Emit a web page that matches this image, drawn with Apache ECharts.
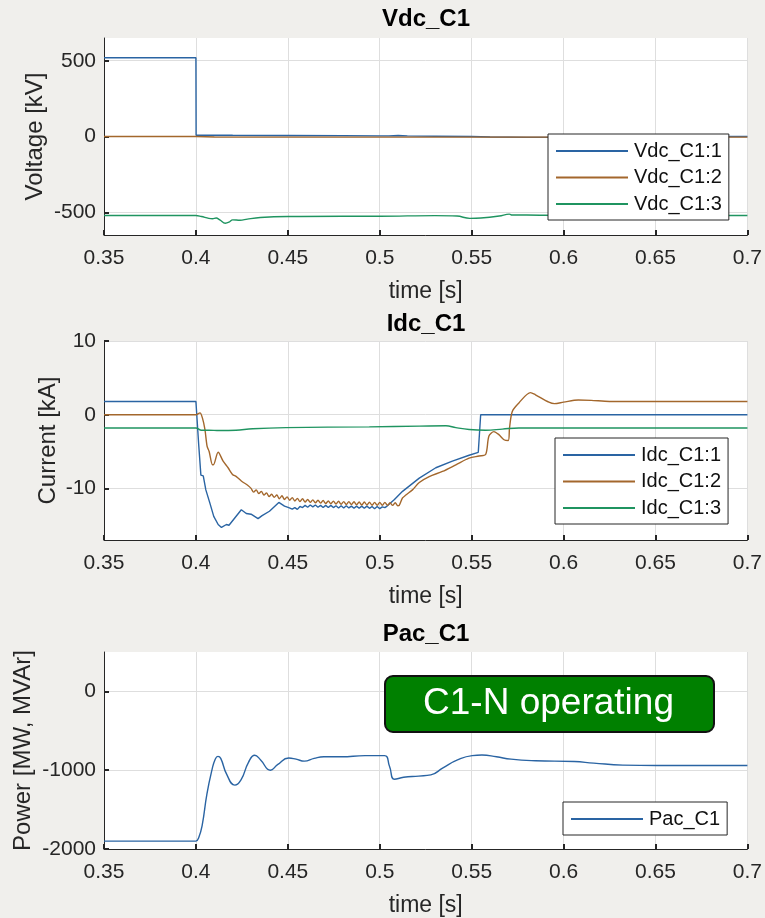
<!DOCTYPE html>
<html>
<head>
<meta charset="utf-8">
<script src="https://cdn.jsdelivr.net/npm/echarts@6/dist/echarts.min.js"></script>
<style>
html,body{margin:0;padding:0;background:#f0efec;}
#chart{width:765px;height:918px;}
</style>
</head>
<body>
<div id="chart"></div>
<script>
// ---------- tick labels ----------
const timeTicks = [0.35, 0.4, 0.45, 0.5, 0.55, 0.6, 0.65, 0.7];
const vdcTicks = [-500, 0, 500];
const idcTicks = [-10, 0, 10];
const pacTicks = [-2000, -1000, 0];

// ---------- Vdc_C1 ----------
const vdc1Time  = [0.35, 0.4, 0.4001, 0.405, 0.42, 0.45, 0.48, 0.5, 0.505, 0.51, 0.515, 0.53, 0.55, 0.56, 0.58, 0.6, 0.62, 0.7];
const vdc1Value = [520, 520, 8, 9, 8, 7, 6, 4, 4, 7, 4, 2, 0, -3, -6, -5, -2, 0];
const vdc2Time  = [0.35, 0.4, 0.41, 0.45, 0.5, 0.55, 0.6, 0.65, 0.7];
const vdc2Value = [0, 0, -3, -4, -4, -4, -4, -4, -4];
const vdc3Time  = [0.35, 0.399, 0.4, 0.403, 0.407, 0.409, 0.411, 0.413, 0.416, 0.418, 0.42, 0.424, 0.428, 0.435, 0.45, 0.48, 0.5, 0.53, 0.542, 0.549, 0.555, 0.565, 0.5705, 0.572, 0.58, 0.6, 0.7];
const vdc3Value = [-521, -521, -521, -528, -540, -543, -538, -550, -572, -565, -550, -553, -545, -535, -528, -526, -526, -522, -525, -540, -538, -525, -512, -518, -518, -521, -521];

// ---------- Idc_C1 ----------
const idc1Time  = [0.35, 0.4, 0.4015, 0.4027, 0.404, 0.4054, 0.4076, 0.4097, 0.4121, 0.4139, 0.4166, 0.418, 0.4247, 0.4274, 0.43, 0.4338, 0.436, 0.44, 0.4451, 0.4482, 0.4505,
  0.4524, 0.4538, 0.4552, 0.4566, 0.458, 0.4594, 0.4608, 0.4622, 0.4636, 0.465, 0.4664, 0.4678, 0.4692, 0.4706, 0.472, 0.4734, 0.4748, 0.4762, 0.4776, 0.479,
  0.4804, 0.4818, 0.4832, 0.4846, 0.486, 0.4874, 0.4888, 0.4902, 0.4916, 0.493, 0.4944, 0.4958, 0.4972, 0.4986, 0.5, 0.5014, 0.5028, 0.504,
  0.508, 0.5124, 0.5215, 0.5305, 0.5395, 0.5486, 0.5536, 0.5549, 0.7];
const idc1Value = [1.8, 1.8, -4, -8.2, -8.3, -10.2, -12, -13.8, -14.9, -15.3, -14.9, -15, -12.9, -13.4, -13.5, -14.1, -13.7, -13.1, -11.9, -12.4, -12.6,
  -12.8, -12.6, -12.85, -12.45, -12.6, -12.3, -12.55, -12.25, -12.5, -12.25, -12.55, -12.3, -12.6, -12.3, -12.6, -12.3, -12.6, -12.35, -12.65, -12.35,
  -12.65, -12.35, -12.65, -12.4, -12.7, -12.4, -12.7, -12.4, -12.7, -12.4, -12.7, -12.45, -12.75, -12.45, -12.75, -12.5, -12.6, -12.4,
  -11.5, -10.4, -8.6, -7.2, -6.3, -5.5, -5.1, 0, 0];
const idc2Time  = [0.35, 0.4, 0.4022, 0.4036, 0.4049, 0.4061, 0.4072, 0.409, 0.4095, 0.4121, 0.4148, 0.4175, 0.4199, 0.422, 0.4247, 0.4283,
  0.43, 0.4314, 0.4328, 0.4342, 0.4356, 0.437, 0.4384, 0.4398, 0.4412, 0.4426, 0.444, 0.4454, 0.4468, 0.4482, 0.4496, 0.451, 0.4524, 0.4538, 0.4552, 0.4566,
  0.458, 0.4594, 0.4608, 0.4622, 0.4636, 0.465, 0.4664, 0.4678, 0.4692, 0.4706, 0.472, 0.4734, 0.4748, 0.4762, 0.4776, 0.479, 0.4804, 0.4818, 0.4832, 0.4846,
  0.486, 0.4874, 0.4888, 0.4902, 0.4916, 0.493, 0.4944, 0.4958, 0.4972, 0.4986, 0.5, 0.5014, 0.5028, 0.5042, 0.5056, 0.507, 0.5084, 0.5098,
  0.5106, 0.5124, 0.5142, 0.5178, 0.5215, 0.5269, 0.5341, 0.5414, 0.5486, 0.554, 0.5576, 0.5594, 0.5621, 0.5648, 0.5676, 0.5699, 0.5706, 0.5721, 0.5757,
  0.582, 0.5847, 0.592, 0.595, 0.6, 0.608, 0.615, 0.625, 0.65, 0.7];
const idc2Value = [0, 0, 0.25, -0.5, -2, -4.3, -5, -6.8, -6.8, -5.1, -6.3, -7.2, -8.1, -8.4, -9, -9.6,
  -10.0, -10.5, -10.2, -10.7, -10.4, -10.9, -10.6, -11.1, -10.8, -11.2, -10.9, -11.4, -11.0, -11.5, -11.15, -11.6, -11.25, -11.7, -11.35, -11.8,
  -11.4, -11.85, -11.5, -11.9, -11.55, -11.95, -11.6, -12.0, -11.65, -12.05, -11.7, -12.1, -11.72, -12.12, -11.75, -12.15, -11.8, -12.2, -11.8, -12.2,
  -11.82, -12.22, -11.85, -12.25, -11.85, -12.25, -11.88, -12.28, -11.9, -12.3, -11.9, -12.3, -11.9, -12.3, -11.95, -12.3, -11.95, -12.35,
  -12.3, -11.3, -10.9, -10.2, -9.2, -8.4, -7.7, -6.8, -5.9, -5.6, -5.4, -2.9, -2.3, -2.7, -3.4, -3.5, -1.8, 0.45, 1.6,
  3.0, 2.7, 1.7, 1.5, 1.7, 2.0, 1.95, 1.8, 1.8, 1.8];
const idc3Time  = [0.35, 0.4, 0.403, 0.407, 0.4127, 0.4218, 0.4309, 0.449, 0.4943, 0.5215, 0.536, 0.5414, 0.5486, 0.5576, 0.5667, 0.5757, 0.7];
const idc3Value = [-1.8, -1.8, -2.1, -2.1, -2.15, -2.1, -1.9, -1.75, -1.65, -1.55, -1.5, -1.75, -2.0, -2.1, -1.95, -1.8, -1.8];

// ---------- Pac_C1 ----------
const pacTime  = [0.35, 0.399, 0.4, 0.4016, 0.4034, 0.406, 0.4087, 0.4105, 0.412, 0.4135, 0.4167, 0.4212, 0.4246, 0.4286, 0.432, 0.4352, 0.4405, 0.4444, 0.4505, 0.4545, 0.459, 0.4643, 0.4696,
  0.479, 0.492, 0.5026, 0.5053, 0.508, 0.513, 0.5212, 0.5278, 0.5344, 0.5423, 0.5503, 0.5556, 0.5635, 0.5714, 0.5847, 0.6058, 0.6164, 0.6323, 0.6508, 0.7];
const pacValue = [-1900, -1900, -1900, -1850, -1700, -1300, -1000, -860, -825, -850, -1050, -1190, -1120, -900, -810, -870, -1000, -930, -845, -860, -885, -850, -830,
  -830, -815, -815, -950, -1115, -1090, -1075, -1060, -970, -870, -815, -808, -830, -860, -880, -890, -910, -935, -940, -940];

const zip = (t, v) => t.map((x, i) => [x, v[i]]);

const INK = '#262626';
const BLUE = '#2a64a3';
const BROWN = '#a3672c';
const GREEN = '#1f9460';
const FONT = '"Liberation Sans", Arial, sans-serif';

const grids = [
  {left: 104, right: 16, top: 38, height: 197},
  {left: 104, right: 16, top: 341, height: 199},
  {left: 104, right: 16, top: 652, height: 198}
];

function xAxisFor(i) {
  return {
    type: 'value', gridIndex: i, min: 0.35, max: 0.7,
    name: 'time [s]', nameLocation: 'middle', nameGap: 45, nameMoveOverlap: false,
    nameTextStyle: {fontFamily: FONT, fontSize: 23, color: INK},
    axisLine: {show: true, onZero: false, lineStyle: {color: INK, width: 1}},
    axisTick: {show: true, inside: true, length: 5, customValues: timeTicks, lineStyle: {color: INK, width: 2}},
    axisLabel: {customValues: timeTicks, fontFamily: FONT, fontSize: 21, color: INK, margin: 13,
      formatter: v => String(parseFloat(v.toFixed(2)))},
    splitLine: {show: true, lineStyle: {color: '#dedede', width: 1}}
  };
}
function yAxisFor(i, min, max, ticks, name, gap) {
  return {
    type: 'value', gridIndex: i, min: min, max: max,
    name: name, nameLocation: 'middle', nameGap: gap, nameMoveOverlap: false,
    nameTextStyle: {fontFamily: FONT, fontSize: 24, color: INK},
    axisLine: {show: true, onZero: false, lineStyle: {color: INK, width: 1}},
    axisTick: {show: true, inside: true, length: 5, customValues: ticks, lineStyle: {color: INK, width: 2}},
    axisLabel: {customValues: ticks, fontFamily: FONT, fontSize: 21, color: INK, margin: 8,
      formatter: v => String(v)},
    splitLine: {show: true, lineStyle: {color: '#dedede', width: 1}}
  };
}
function lineSeries(name, xi, data, color, smooth) {
  return {
    type: 'line', name: name, xAxisIndex: xi, yAxisIndex: xi, data: data,
    symbol: 'none', showSymbol: false, animation: false, z: 3,
    smooth: smooth || false,
    lineStyle: {color: color, width: 1.4}, itemStyle: {color: color}
  };
}
function legendFor(names, left, top) {
  return {
    data: names, orient: 'vertical', left: left, top: top,
    padding: [7, 7, 6, 7], itemWidth: 72, itemHeight: 1, itemGap: 6.5,
    backgroundColor: '#ffffff', borderColor: INK, borderWidth: 1,
    textStyle: {fontFamily: FONT, fontSize: 20, color: '#111', lineHeight: 20, padding: [0, 0, 0, 1]},
    selectedMode: false
  };
}

const titleStyle = {fontFamily: FONT, fontSize: 24, fontWeight: 'bold', color: '#000'};

const chart = echarts.init(document.getElementById('chart'), null, {renderer: 'canvas'});
chart.setOption({
  backgroundColor: '#f0efec',
  animation: false,
  title: [
    {text: 'Vdc_C1', left: 426, top: 7, textAlign: 'center', padding: 0, textStyle: titleStyle},
    {text: 'Idc_C1', left: 426, top: 312, textAlign: 'center', padding: 0, textStyle: titleStyle},
    {text: 'Pac_C1', left: 426, top: 622, textAlign: 'center', padding: 0, textStyle: titleStyle}
  ],
  grid: grids.map(g => Object.assign({show: true, backgroundColor: '#ffffff', borderWidth: 0}, g)),
  xAxis: [xAxisFor(0), xAxisFor(1), xAxisFor(2)],
  yAxis: [
    yAxisFor(0, -650, 650, vdcTicks, 'Voltage [kV]', 57),
    yAxisFor(1, -17, 10, idcTicks, 'Current [kA]', 44),
    yAxisFor(2, -2000, 500, pacTicks, 'Power [MW, MVAr]', 69)
  ],
  legend: [
    legendFor(['Vdc_C1:1', 'Vdc_C1:2', 'Vdc_C1:3'], 548, 134),
    legendFor(['Idc_C1:1', 'Idc_C1:2', 'Idc_C1:3'], 555, 438),
    legendFor(['Pac_C1'], 563, 802)
  ],
  series: [
    lineSeries('Vdc_C1:1', 0, zip(vdc1Time, vdc1Value), BLUE),
    lineSeries('Vdc_C1:2', 0, zip(vdc2Time, vdc2Value), BROWN),
    lineSeries('Vdc_C1:3', 0, zip(vdc3Time, vdc3Value), GREEN, 0.4),
    lineSeries('Idc_C1:1', 1, zip(idc1Time, idc1Value), BLUE),
    lineSeries('Idc_C1:2', 1, zip(idc2Time, idc2Value), BROWN, 0.3),
    lineSeries('Idc_C1:3', 1, zip(idc3Time, idc3Value), GREEN, 0.4),
    lineSeries('Pac_C1', 2, zip(pacTime, pacValue), BLUE, 0.5)
  ],
  graphic: [
    {type: 'rect', left: 384, top: 675, z: 100,
     shape: {width: 329, height: 56, r: 8},
     style: {fill: '#008000', stroke: '#111', lineWidth: 2}},
    {type: 'text', x: 548.5, y: 704, z: 101,
     style: {text: 'C1-N operating', fill: '#ffffff', font: '37px "Liberation Sans", Arial, sans-serif', textAlign: 'center', textVerticalAlign: 'middle'}}
  ]
});
</script>
</body>
</html>
